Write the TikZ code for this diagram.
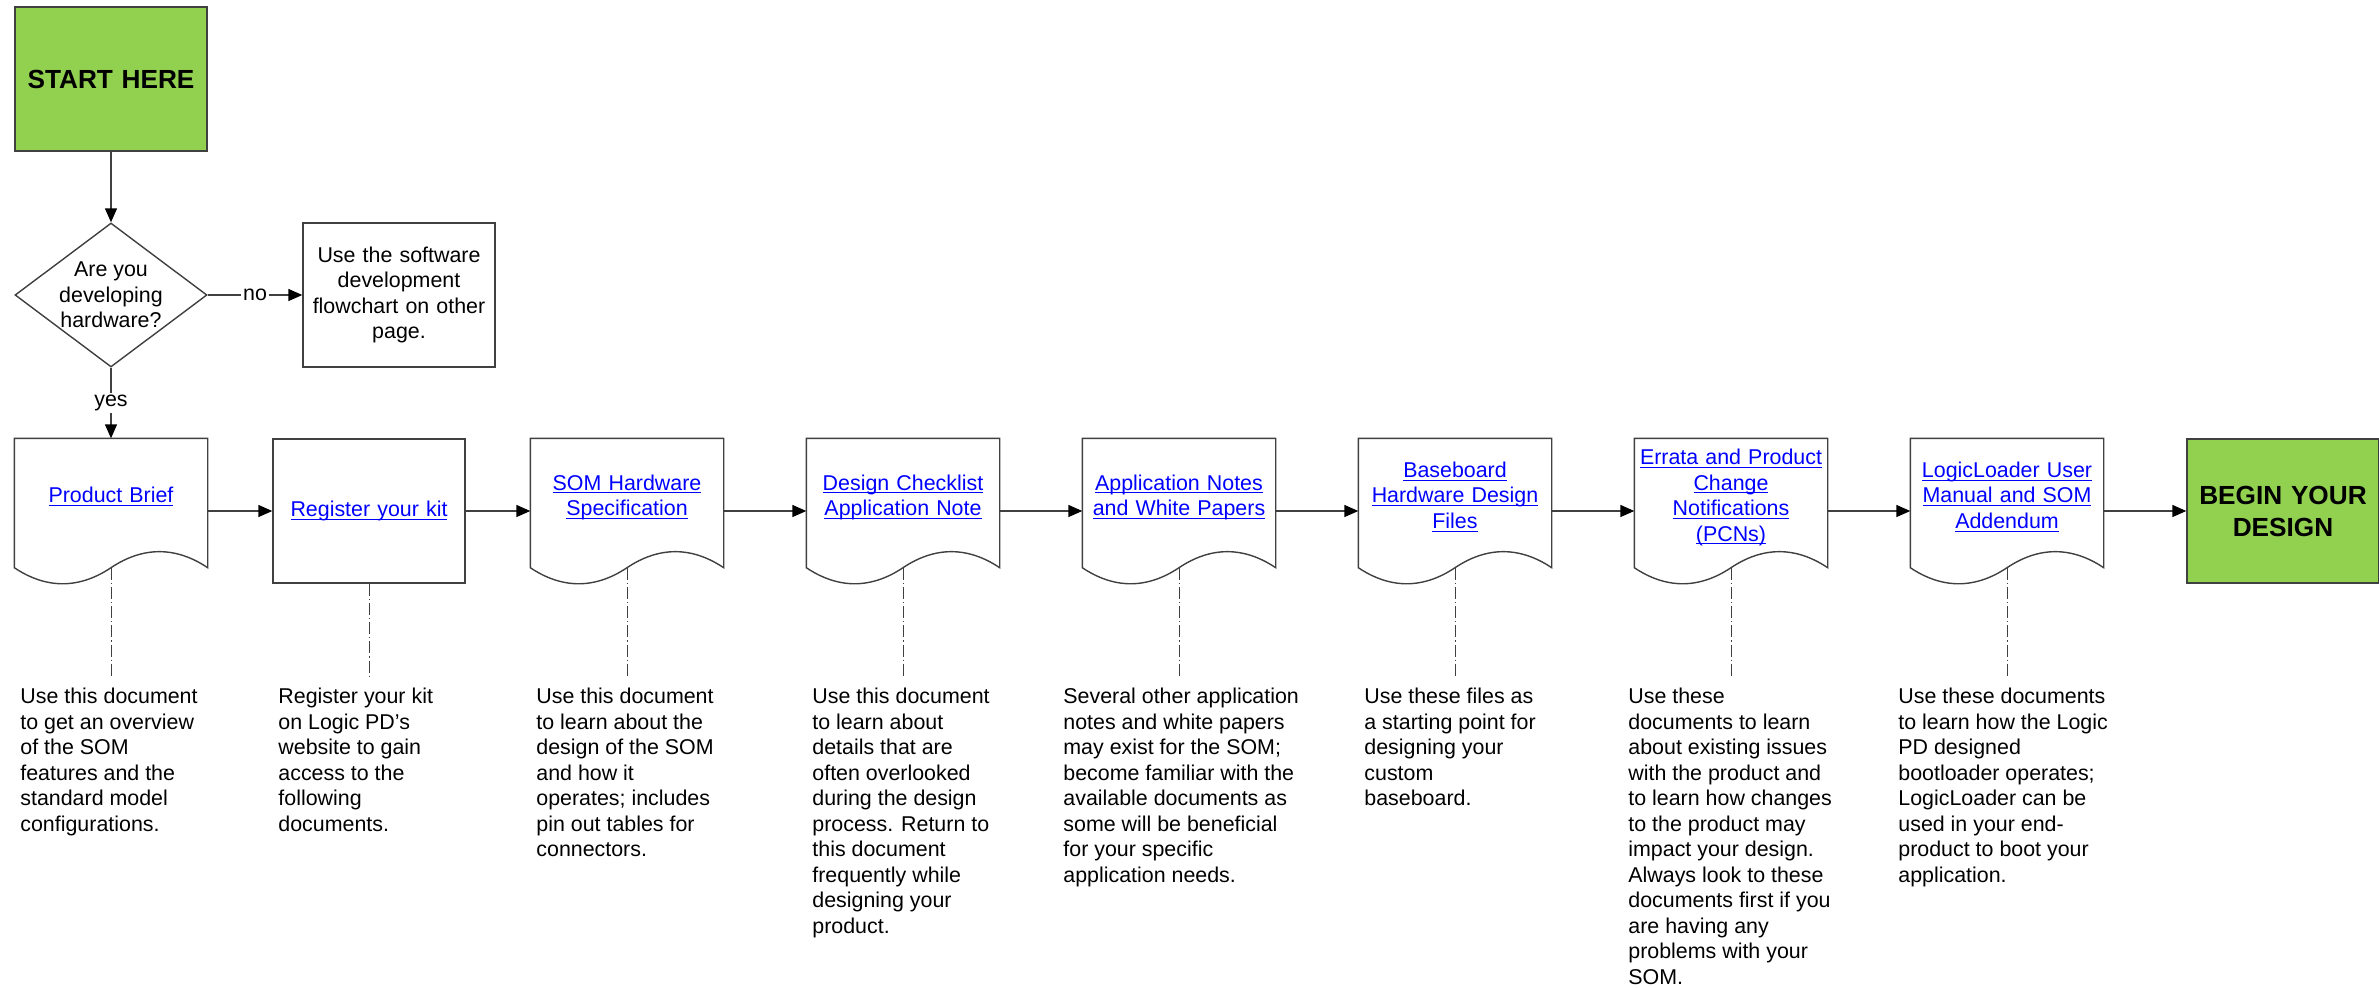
\documentclass[tikz,border=0pt]{standalone}
\usepackage{fontspec}
\setmainfont{Liberation Sans}
\usetikzlibrary{shapes.geometric,arrows.meta}
\definecolor{startgreen}{HTML}{92D050}
\definecolor{linkblue}{HTML}{0000FF}
\definecolor{edgegray}{HTML}{404040}
\newcommand{\doclink}[1]{\textcolor{linkblue}{\underline{\raisebox{0pt}[\height][0pt]{#1}}}}

\begin{document}
\begin{tikzpicture}[x=0.5pt,y=-0.5pt,
  every node/.style={font=\fontsize{10.7}{12.75}\selectfont},
  box/.style={draw=edgegray, line width=0.7pt, minimum width=96pt, minimum height=72pt, inner sep=1pt, text width=94pt, align=center},
  doc/.style={box, draw=none, execute at end node={\rule[-16pt]{0pt}{16pt}}},
  terminal/.style={box, fill=startgreen, font=\fontsize{13.1}{16}\selectfont\bfseries},
  decision/.style={draw=edgegray, line width=0.7pt, shape=diamond, aspect=1.333, minimum width=96pt, minimum height=72pt, inner sep=-6pt, align=center},
  docline/.style={draw=edgegray, line width=0.7pt},
  note/.style={anchor=north west, inner sep=0pt, align=left},
  flow/.style={draw=edgegray, line width=0.7pt, -{Triangle[length=7pt,width=6pt,color=black]}},
  noteline/.style={draw=edgegray, line width=0.4pt, dash pattern=on 6pt off 1.5pt on 0.6pt off 1.5pt, shorten >=5pt},
  answer/.style={fill=white, inner sep=1pt}]
\useasboundingbox (0,0) rectangle (2379,987);
\node[terminal] (start) at (111,79) {START HERE};
\node[decision] (hw) at (111,295) {Are you\\developing\\hardware?};
\node[box] (sw) at (399,295) {Use the software\\development\\flowchart on other\\page.};
\node[doc] (pb) at (111,511) {\doclink{Product Brief}};
\node[box] (reg) at (369,511) {\doclink{Register your kit}};
\node[doc] (som) at (627,511) {\doclink{SOM Hardware}\\\doclink{Specification}};
\node[doc] (dcl) at (903,511) {\doclink{Design Checklist}\\\doclink{Application Note}};
\node[doc] (apn) at (1179,511) {\doclink{Application Notes}\\\doclink{and White Papers}};
\node[doc] (bbd) at (1455,511) {\doclink{Baseboard}\\\doclink{Hardware Design}\\\doclink{Files}};
\node[doc] (err) at (1731,511) {\doclink{Errata and Product}\\\doclink{Change}\\\doclink{Notifications}\\\doclink{(PCNs)}};
\node[doc] (llm) at (2007,511) {\doclink{LogicLoader User}\\\doclink{Manual and SOM}\\\doclink{Addendum}};
\node[terminal] (begin) at (2283,511) {BEGIN YOUR\\DESIGN};
\node[note] (notepb) at (20,688) {Use this document\\to get an overview\\of the SOM\\features and the\\standard model\\configurations.};
\node[note] (notereg) at (278,688) {Register your kit\\on Logic PD’s\\website to gain\\access to the\\following\\documents.};
\node[note] (notesom) at (536,688) {Use this document\\to learn about the\\design of the SOM\\and how it\\operates; includes\\pin out tables for\\connectors.};
\node[note] (notedcl) at (812,688) {Use this document\\to learn about\\details that are\\often overlooked\\during the design\\process. Return to\\this document\\frequently while\\designing your\\product.};
\node[note] (noteapn) at (1063,688) {Several other application\\notes and white papers\\may exist for the SOM;\\become familiar with the\\available documents as\\some will be beneficial\\for your specific\\application needs.};
\node[note] (notebbd) at (1364,688) {Use these files as\\a starting point for\\designing your\\custom\\baseboard.};
\node[note] (noteerr) at (1628,688) {Use these\\documents to learn\\about existing issues\\with the product and\\to learn how changes\\to the product may\\impact your design.\\Always look to these\\documents first if you\\are having any\\problems with your\\SOM.};
\node[note] (notellm) at (1898,688) {Use these documents\\to learn how the Logic\\PD designed\\bootloader operates;\\LogicLoader can be\\used in your end-\\product to boot your\\application.};
\foreach \n in {pb,som,dcl,apn,bbd,err,llm}{
  \draw[docline] (\n.north west) -- (\n.north east) -- ([yshift=8pt]\n.south east)
    .. controls +(-16pt,10.7pt) and +(16pt,10.7pt) .. ([yshift=8pt]\n.south)
    .. controls +(-16pt,-10.7pt) and +(16pt,-10.7pt) .. ([yshift=8pt]\n.south west) -- cycle;
  \draw[noteline] ([yshift=8pt]\n.south) -- (\n.south |- note\n.north);
}
\draw[noteline] (reg) -- (reg.south |- notereg.north);
\draw[flow] (start) -- (hw);
\draw[flow] (hw) -- node[answer] (no) {no} (sw);
\draw[flow] (hw) -- node[answer] (yes) {yes} (pb);
\foreach \a/\b in {pb/reg,reg/som,som/dcl,dcl/apn,apn/bbd,bbd/err,err/llm,llm/begin}
  \draw[flow] (\a) -- (\b);
\end{tikzpicture}
\end{document}
